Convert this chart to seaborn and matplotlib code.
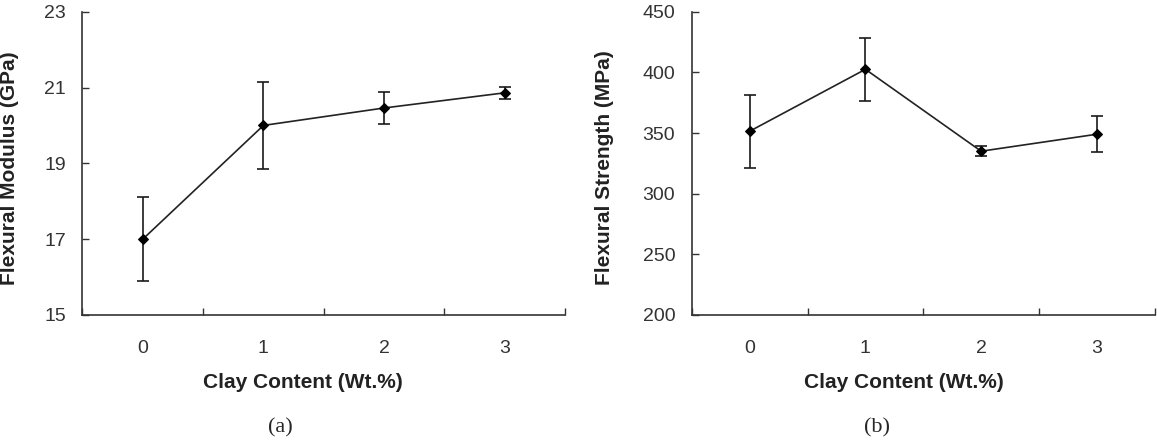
import numpy as np
import pandas as pd
import matplotlib
matplotlib.use('Agg')
import matplotlib.pyplot as plt
import seaborn as sns

clay = [0, 1, 2, 3]
modulus = [17.0, 20.0, 20.46, 20.86]
modulus_err = [1.1, 1.15, 0.42, 0.16]
strength = [351.5, 402.5, 335.0, 349.0]
strength_err = [30, 26, 4, 15]

sns.set_style('ticks')
plt.rcParams['font.family'] = ['Liberation Sans', 'DejaVu Sans']

fig = plt.figure(figsize=(11.57, 4.48), dpi=100)
ax_a = fig.add_axes([0.0713, 0.2969, 0.417, 0.677])
ax_b = fig.add_axes([0.598, 0.2969, 0.400, 0.677])

paineis = [
    (ax_a, modulus, modulus_err, 'Flexural Modulus (GPa)', (15, 23), [15, 17, 19, 21, 23], -0.152, '(a)', 280.8),
    (ax_b, strength, strength_err, 'Flexural Strength (MPa)', (200, 450), [200, 250, 300, 350, 400, 450], -0.188, '(b)', 877),
]

for ax, vals, err, ylab, ylim, yticks, ylab_x, letra, letra_x in paineis:
    df = pd.DataFrame({'x': clay, 'y': vals})
    sns.lineplot(data=df, x='x', y='y', ax=ax, color='#222222', linewidth=1.2,
                 marker='D', markersize=5.5, markeredgecolor='black',
                 markerfacecolor='black', zorder=3)
    ax.errorbar(clay, vals, yerr=err, fmt='none', ecolor='#1a1a1a',
                elinewidth=1.2, capsize=4.5, capthick=1.2, zorder=2)

    ax.set_xlim(-0.5, 3.5)
    ax.set_ylim(*ylim)
    ax.set_yticks(yticks)
    ax.set_xticks([-0.5, 0.5, 1.5, 2.5, 3.5])
    ax.set_xticklabels([])
    ax.set_xticks(clay, minor=True)
    ax.set_xticklabels([str(c) for c in clay], minor=True)
    ax.tick_params(axis='x', which='major', direction='in', length=5, width=1, color='#333333')
    ax.tick_params(axis='x', which='minor', length=0, pad=18, labelsize=14, labelcolor='#333333')
    ax.tick_params(axis='y', direction='in', length=5, width=1, pad=12, labelsize=14,
                   labelcolor='#333333', color='#333333')

    for s in ['top', 'right']:
        ax.spines[s].set_visible(False)
    for s in ['left', 'bottom']:
        ax.spines[s].set_color('#333333')
        ax.spines[s].set_linewidth(1.2)

    ax.set_xlabel('Clay Content (Wt.%)', fontsize=15, fontweight='bold', color='#222222')
    ax.set_ylabel(ylab, fontsize=15, fontweight='bold', color='#222222')
    ax.xaxis.label.set_verticalalignment('center')
    ax.yaxis.label.set_verticalalignment('center')
    ax.xaxis.set_label_coords(0.457, -0.224)
    ax.yaxis.set_label_coords(ylab_x, 0.485)

    fig.text(letra_x / 1157, 1 - 428 / 448, letra, ha='center', va='center',
             fontsize=16, family=['Liberation Serif', 'DejaVu Serif'])

plt.savefig('out.png', dpi=100)
